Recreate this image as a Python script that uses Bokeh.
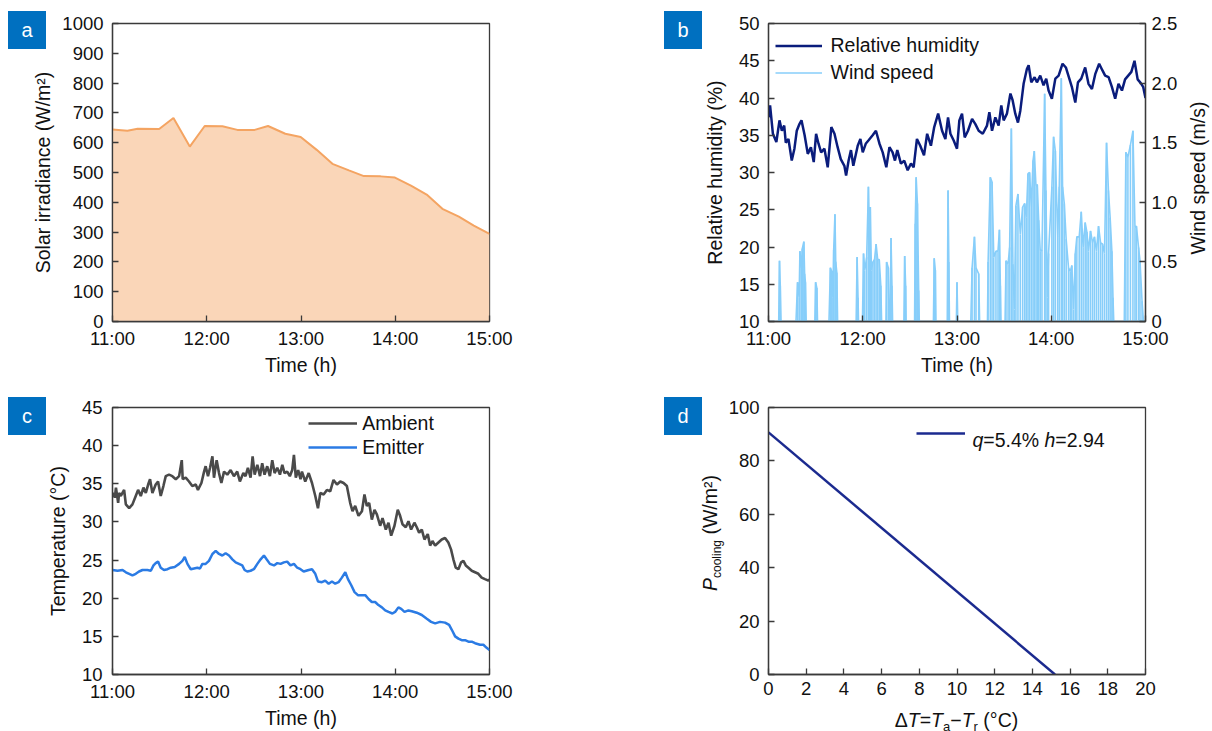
import math
from bokeh.plotting import figure
from bokeh.layouts import column, row
from bokeh.models import (FixedTicker, LinearAxis, Range1d, Label, Legend, LegendItem, Div)
from bokeh.embed import file_html
from bokeh.resources import INLINE

# ---------------- data (time in minutes after 11:00) ----------------
TIME_TICKS = [0, 60, 120, 180, 240]
TIME_LABELS = ["11:00", "12:00", "13:00", "14:00", "15:00"]

IRR_T = [0, 9.5, 16, 29.7, 38.8, 49.2, 58.7, 70, 79.5, 90.5, 99, 110, 119.8, 130, 140,
         150.5, 160, 170.7, 179.8, 190, 200, 210, 220.5, 230, 240]
IRR_V = [644, 640, 647, 646, 683, 587, 656, 655, 643, 643, 656, 630, 619, 576, 529,
         507, 488, 487, 483, 456, 426, 378, 352, 322, 294]

RH_T = [0, 1, 2.8, 5, 7, 8.5, 10, 11, 12.7, 14.8, 16.5, 18, 19.7, 21, 23, 25, 27, 28.8, 30.3,
        31.8, 33.5, 35.6, 37.7, 40, 42, 44, 46, 48.3, 49.4, 51, 52.5, 54, 56.8, 58.5, 60, 62,
        63.6, 66.3, 68.4, 70.6, 72.7, 75, 77, 79, 80.5, 82, 84.3, 86.4, 88.6, 90.7, 92.4, 94.5,
        96.6, 99, 101, 103.4, 105.5, 108, 110.5, 112.6, 114.3, 115.8, 117.9, 120, 121.5, 123.2,
        124.9, 127, 129.6, 131.7, 133.8, 136.4, 139.1, 140.6, 142.3, 144.4, 146.5, 148.2, 149.7,
        151.8, 154, 155.4, 157.1, 158.8, 160.3, 162.4, 164.5, 165.6, 167.3, 169.4, 170.9, 173,
        175.1, 176.8, 178.3, 180.4, 182.6, 184.7, 187.2, 189.3, 191.5, 193.1, 195.3, 197, 199.1,
        201.6, 203.7, 205.9, 208, 210.5, 212.6, 214.3, 216.5, 218.6, 220.7, 222.8, 225, 227, 229,
        231, 233, 235, 237, 238.5, 240]
RH_V = [37.4, 39.0, 35.2, 34.1, 37.0, 35.6, 36.3, 34.0, 34.5, 31.6, 33.2, 35.6, 36.5, 37.0, 35.0,
        32.5, 33.4, 31.4, 35.2, 33.9, 32.7, 33.2, 30.7, 36.1, 35.2, 33.4, 31.8, 30.9, 29.6, 31.6,
        33.0, 30.9, 33.6, 34.5, 32.7, 33.9, 34.3, 35.0, 35.6, 33.9, 32.7, 30.7, 33.4, 32.7, 31.6,
        33.0, 31.2, 31.6, 30.3, 31.2, 30.7, 34.5, 33.6, 32.3, 35.2, 33.6, 36.1, 37.9, 35.6, 34.5,
        37.4, 35.2, 34.3, 33.2, 37.0, 37.9, 34.7, 35.6, 37.2, 36.5, 35.6, 35.2, 36.3, 38.1, 35.6,
        37.4, 36.3, 39.0, 37.0, 37.9, 40.6, 39.7, 37.9, 36.7, 38.3, 41.9, 43.9, 44.4, 42.1, 42.8,
        42.1, 43.0, 41.7, 42.6, 41.0, 39.9, 42.6, 43.0, 44.6, 44.1, 42.6, 41.5, 39.4, 42.1, 42.6,
        44.1, 41.9, 41.2, 43.2, 44.6, 43.7, 43.0, 42.8, 41.5, 39.9, 41.9, 41.0, 42.5, 43.0, 43.5,
        45.0, 42.5, 42.0, 41.5, 40.0]

WIND_T = [0, 6.5, 7, 7.5, 8,
          17.5, 18.5, 19.5, 20, 21, 21.5, 22.5, 23, 23.5, 24,
          29.5, 30, 30.8, 31.2,
          38.5, 39.4, 40.3, 41, 41.5, 42.3, 42.8, 43.5, 44,
          55.8, 56.4, 57, 57.3,
          59.8, 60.5, 61.3, 62.5, 63.6, 64.3, 64.8, 65.5, 66.5, 67.5, 68.5, 69.5, 70.5, 71.5, 72,
          74.8, 75.2, 76.3, 76.8, 77.5, 78, 78.6, 79,
          86.2, 86.7, 87.3, 87.6,
          93, 93.4, 94, 94.8, 95.6, 96,
          105, 105.5, 106.2, 106.6,
          113.8, 114.3, 114.8, 115.2,
          119.6, 120, 120.5,
          128.8, 129.6, 131.1, 132.1, 133.8, 134.4,
          139.4, 139.8, 141.2, 142.3, 143.4, 144.8, 146.1, 147, 147.6, 148,
          150.6, 151.2, 152.5, 153.5, 154.6, 155.6, 156.5, 157.5, 158.8, 160.3, 161.8, 163.1,
          164.1, 165.2, 166.2, 167.3, 168.4, 169.2, 170.3, 171.1, 172, 173, 174.1, 175.8, 176.6,
          177.5, 178.3, 180.4, 181.5, 182.6, 184.1, 185.1, 186.4, 187.2, 188.3, 189.5, 191, 192.1,
          193.1, 194.2, 195.3, 196.3, 197.8, 199.1, 200.3, 201.6, 202.7, 203.7, 205, 206.3, 207.5,
          208.8, 210.1, 211.4, 212.6, 213.9, 215.2, 216.4, 217.5, 218.6, 219.3, 219.8,
          226.5, 227.5, 228.8, 230.4, 232, 233.3, 234.2, 235.6, 236.5, 237.8, 238.7, 240]
WIND_V = [0, 0, 0.51, 0.3, 0,
          0, 0.33, 0.2, 0.59, 0.45, 0.61, 0.67, 0.4, 0.33, 0,
          0, 0.33, 0.28, 0,
          0, 0.45, 0.42, 0.2, 0.6, 0.9, 0.5, 0.41, 0,
          0, 0.54, 0.2, 0,
          0, 0.57, 0.43, 0.54, 1.13, 0.7, 0.96, 0.43, 0.5, 0.52, 0.65, 0.52, 0.52, 0.3, 0,
          0, 0.5, 0.45, 0, 0, 0.7, 0.3, 0,
          0, 0.55, 0.3, 0,
          0, 0.82, 1.21, 0.99, 0.26, 0,
          0, 0.53, 0.43, 0,
          0, 1.10, 0.5, 0,
          0, 0.33, 0,
          0, 0.45, 0.71, 0.45, 0.4, 0,
          0, 0.5, 1.21, 1.17, 0.54, 0.59, 0.59, 0.77, 0.3, 0,
          0, 0.51, 0.48, 0.62, 1.62, 0.48, 0.1, 0.97, 1.07, 0.73, 0.96, 0.99,
          0.87, 1.24, 1.25, 0.96, 1.35, 1.43, 1.13, 1.15, 0.85, 0.59, 0.6, 1.91, 1.1,
          0.2, 0.57, 1.13, 1.55, 1.43, 0.71, 1.13, 2.04, 1.13, 0.99, 0.69, 0.45, 0.42,
          0.47, 0.1, 0.57, 0.71, 0.71, 0.92, 0.62, 0.83, 0.75, 0.59, 0.76, 0.66, 0.71,
          0.59, 0.8, 0.66, 0.65, 0.57, 1.5, 1.1, 0.87, 0.59, 0.2, 0,
          0, 1.42, 1.38, 1.48, 1.6, 0.79, 0.8, 0.62, 0.51, 0.17, 0, 0]

AMB_T = [0, 1.5, 2.2, 3.6, 4.2, 5.3, 7.4, 8.5, 10.6, 12.7, 14.8, 16.3, 18, 19.7, 21.2, 22.7, 23.9,
         25.4, 27.5, 29, 30.7, 32.4, 33.9, 36, 38.1, 40.3, 42.4, 44.1, 44.7, 46.6, 48.7, 50.8, 53,
         54.4, 56.6, 58.3, 59.3, 60.8, 62.1, 63.6, 64.6, 66.3, 67.8, 69.3, 71, 73.1, 75.2, 77.3,
         79.4, 81.1, 83.3, 84.7, 86.2, 87.9, 89.2, 90.5, 92.2, 93.9, 95.3, 96.8, 98.5, 100.2,
         101.7, 103.2, 104.9, 106.6, 108.1, 109.5, 111.2, 112.9, 114.4, 115.5, 116.7, 118.2,
         119.7, 120.6, 122.7, 124.9, 127, 129.1, 130.8, 132.3, 134.4, 136.5, 138.6, 140.7, 142.9,
         145, 147.1, 149.2, 151.3, 152.8, 154.5, 156.6, 158.8, 160.4, 161.9, 163.4, 165.1, 166.8,
         168.3, 170.4, 171.9, 174, 175.7, 177.4, 179.5, 181.6, 183.1, 184.6, 186.7, 188.4, 190.1,
         192.2, 193.7, 195.2, 196.9, 198.6, 200.7, 202.2, 203.7, 205.4, 207.5, 209.6, 211.7,
         213.8, 215.5, 217, 218.5, 220.2, 221.9, 223.4, 224.9, 226.6, 228.7, 230.8, 232.9, 235,
         237.1, 239.3, 240]
AMB_V = [33.8, 33.2, 34.5, 32.5, 33.8, 33.4, 34.2, 32.3, 31.8, 32.3, 33.4, 34.2, 33.4, 34.5, 33.8,
         34.9, 35.6, 33.8, 34.9, 35.3, 33.4, 34.7, 36.0, 36.2, 36.0, 35.6, 36.0, 38.1, 35.6, 35.8,
         35.3, 34.7, 34.9, 34.2, 35.1, 36.6, 37.3, 36.0, 37.1, 38.6, 35.8, 38.1, 36.4, 35.1, 36.6,
         36.2, 36.8, 36.0, 36.6, 35.3, 36.4, 36.0, 37.1, 35.8, 38.6, 36.2, 37.5, 36.0, 37.7, 36.2,
         37.3, 36.0, 38.1, 36.4, 37.1, 36.2, 37.5, 36.4, 36.6, 36.0, 36.8, 38.8, 35.8, 36.8, 35.6,
         36.6, 35.3, 36.4, 35.1, 33.4, 31.8, 33.8, 33.6, 34.2, 34.0, 35.5, 34.9, 35.3, 35.1, 34.7,
         32.5, 31.4, 32.1, 30.8, 31.4, 33.6, 32.1, 32.5, 30.3, 31.6, 31.0, 29.5, 30.5, 29.0, 29.9,
         28.2, 29.5, 31.6, 30.8, 29.7, 29.3, 30.1, 29.0, 29.9, 29.3, 28.6, 29.0, 27.7, 28.4, 26.9,
         27.5, 26.9, 27.3, 27.7, 27.9, 27.3, 26.4, 25.1, 24.0, 23.8, 24.7, 24.9, 24.3, 24.0, 23.6,
         23.4, 23.2, 22.7, 22.5, 22.3, 22.5]

EMI_T = [0, 3.2, 6.4, 8.5, 10.6, 12.7, 14.8, 16.9, 19.1, 22.2, 24.4, 26.1, 27.5, 29, 30.7, 32.8,
         35, 37.1, 39.6, 42.4, 44.5, 46, 47.7, 49.8, 51.9, 54, 55.7, 57.2, 59.3, 61.4, 63.6, 65.7,
         67.8, 69.9, 72, 74.2, 76.3, 78.4, 80.5, 82.6, 84.1, 85.8, 87.9, 90, 92.2, 94.3, 96.4,
         98.1, 100.2, 102.8, 104.9, 107, 109.1, 111.2, 113.3, 115.5, 117.6, 119.7, 121.7, 124.9,
         127, 129.1, 130.8, 133.3, 135.4, 137.6, 139.7, 141.8, 143.9, 146, 148.2, 149.9, 152,
         154.1, 156.2, 158.8, 160.9, 163, 165.1, 167.2, 169.3, 171.5, 173.6, 175.7, 178.2, 179.9,
         182, 183.8, 185.9, 188.4, 190.5, 193.7, 196.9, 200.1, 202.8, 205.4, 208.5, 211.7, 214.3,
         216.4, 218.1, 220.2, 222.3, 224.4, 226.6, 228.7, 230.8, 234, 236.1, 238.2, 240]
EMI_V = [23.7, 23.6, 23.7, 23.4, 23.2, 23.0, 23.2, 23.5, 23.7, 23.7, 23.6, 24.3, 24.6, 24.8, 24.0,
         23.7, 23.8, 24.0, 24.1, 24.5, 24.9, 25.4, 24.5, 23.8, 23.9, 24.0, 23.9, 24.5, 24.5, 24.9,
         25.8, 26.2, 25.8, 25.6, 25.9, 25.6, 25.1, 24.7, 24.5, 24.3, 23.7, 23.5, 23.6, 23.8, 24.5,
         25.1, 25.6, 25.1, 24.5, 24.3, 24.6, 24.5, 24.7, 24.8, 24.3, 24.5, 24.0, 23.8, 23.5, 23.7,
         23.8, 23.2, 22.2, 22.1, 22.3, 21.9, 22.2, 21.9, 22.1, 22.7, 23.4, 22.5, 21.7, 20.8, 20.4,
         20.4, 20.4, 19.9, 19.5, 19.5, 19.1, 18.8, 18.4, 18.2, 18.0, 18.2, 18.8, 18.6, 18.2, 18.4,
         18.3, 18.1, 17.8, 17.3, 16.9, 16.7, 16.9, 16.8, 16.5, 15.7, 15.0, 14.7, 14.5, 14.5, 14.3,
         14.3, 14.1, 13.9, 13.9, 13.5, 13.2]

DT = [0, 15.2]
PCOOL = [90.7, 0]

IRR_TICKS = [0, 100, 200, 300, 400, 500, 600, 700, 800, 900, 1000]
RH_TICKS = [10, 15, 20, 25, 30, 35, 40, 45, 50]
WIND_TICKS = [0, 0.5, 1.0, 1.5, 2.0, 2.5]
TEMP_TICKS = [10, 15, 20, 25, 30, 35, 40, 45]
DT_TICKS = [0, 2, 4, 6, 8, 10, 12, 14, 16, 18, 20]
P_TICKS = [0, 20, 40, 60, 80, 100]

# ---------------- styling ----------------
FONT = "Liberation Sans"
AX = "#3a3a3a"
TXT = "#111111"
TICK_FS = "18.5px"
LAB_FS = 19.5
TAG_BG = "#0070C0"

W_TAB = {'=': 0.584, ' ': 0.278, 'q': 0.556, 'h': 0.556, '%': 0.889, '.': 0.278}


def tw(s, size):
    return sum(W_TAB.get(ch, 0.556) for ch in s) * size


def make_fig(w, h, left, right, top, bottom, xr, yr):
    p = figure(width=w, height=h, x_range=Range1d(*xr), y_range=Range1d(*yr),
               output_backend="svg", toolbar_location=None,
               min_border_left=left, min_border_right=right,
               min_border_top=top, min_border_bottom=bottom)
    p.grid.visible = False
    p.outline_line_color = AX
    p.outline_line_width = 1.3
    p.background_fill_color = "white"
    p.border_fill_color = "white"
    return p


def style_axis(ax, ticks, lab_standoff, axlab_standoff):
    ax.ticker = FixedTicker(ticks=ticks)
    ax.axis_line_color = AX
    ax.axis_line_width = 1.3
    ax.major_tick_line_color = AX
    ax.major_tick_line_width = 1.3
    ax.major_tick_in = 6
    ax.major_tick_out = 0
    ax.minor_tick_in = 0
    ax.minor_tick_out = 0
    ax.major_label_text_font = FONT
    ax.major_label_text_font_size = TICK_FS
    ax.major_label_text_color = TXT
    ax.major_label_standoff = lab_standoff
    ax.axis_label_text_font = FONT
    ax.axis_label_text_font_size = f"{LAB_FS}px"
    ax.axis_label_text_font_style = "normal"
    ax.axis_label_text_color = TXT
    ax.axis_label_standoff = axlab_standoff


def time_axis(ax):
    style_axis(ax, TIME_TICKS, 6, 2)
    ax.major_label_overrides = {t: l for t, l in zip(TIME_TICKS, TIME_LABELS)}
    ax.axis_label = "Time (h)"


def text_run(p, x0, y0, pieces):
    pos = 0.0
    for txt, italic in pieces:
        if txt == "":
            pos += tw(" ", LAB_FS)
            continue
        p.add_layout(Label(x=x0 + pos, y=y0, x_units="screen", y_units="screen", text=txt,
                           text_font=FONT, text_font_size=f"{LAB_FS}px",
                           text_font_style="italic" if italic else "normal",
                           text_color=TXT, text_align="left", text_baseline="alphabetic"))
        pos += tw(txt, LAB_FS)


def legend(p, items, loc, gw, gh, standoff):
    lg = Legend(items=items, location=loc, margin=0, padding=0, spacing=0,
                glyph_width=gw, glyph_height=gh, label_standoff=standoff,
                label_text_font=FONT, label_text_font_size=f"{LAB_FS}px",
                label_text_color=TXT, border_line_color=None, background_fill_alpha=0)
    p.add_layout(lg)


# ---------------- panel a ----------------
pa = make_fig(600, 380, 112, 111, 23, 59, (0, 240), (0, 1000))
pa.varea(x=IRR_T, y1=0, y2=IRR_V, fill_color="#FAD6B8")
pa.line(IRR_T, IRR_V, line_color="#F4A462", line_width=2)
time_axis(pa.xaxis[0])
style_axis(pa.yaxis[0], IRR_TICKS, 9, 5)
pa.yaxis[0].axis_label = "Solar irradiance (W/m²)"

# ---------------- panel b ----------------
pb = make_fig(612, 380, 168, 67, 23, 59, (0, 240), (10, 50))
pb.extra_y_ranges = {"wind": Range1d(0, 2.5)}
pb.vbar(x=WIND_T, top=WIND_V, bottom=0, width=1.0, fill_color="#87CEFA", line_color=None,
        y_range_name="wind")
r_wind = pb.line(WIND_T, WIND_V, line_color="#87CEFA", line_width=1.6, y_range_name="wind")
r_rh = pb.line(RH_T, RH_V, line_color="#0A1C7C", line_width=2.5)
time_axis(pb.xaxis[0])
style_axis(pb.yaxis[0], RH_TICKS, 9, 10)
pb.yaxis[0].axis_label = "Relative humidity (%)"
rax = LinearAxis(y_range_name="wind")
style_axis(rax, WIND_TICKS, 6, 9)
rax.major_label_overrides = {0: "0", 0.5: "0.5", 1.0: "1.0", 1.5: "1.5", 2.0: "2.0", 2.5: "2.5"}
pb.add_layout(rax, "right")
legend(pb, [LegendItem(label="Relative humidity", renderers=[r_rh]),
            LegendItem(label="Wind speed", renderers=[r_wind])], (6.5, 235), 47, 27, 9)

# ---------------- panel c ----------------
pc = make_fig(600, 351, 112, 111, 27, 54, (0, 240), (10, 45))
r_amb = pc.line(AMB_T, AMB_V, line_color="#4A4A4A", line_width=2.6)
r_emi = pc.line(EMI_T, EMI_V, line_color="#2B7BE4", line_width=2.5)
time_axis(pc.xaxis[0])
style_axis(pc.yaxis[0], TEMP_TICKS, 10, 10)
pc.yaxis[0].axis_label = "Temperature (°C)"
legend(pc, [LegendItem(label="Ambient", renderers=[r_amb]),
            LegendItem(label="Emitter", renderers=[r_emi])], (196.3, 215), 49, 24, 5)

# ---------------- panel d ----------------
pd_ = make_fig(612, 351, 168, 67, 27, 54, (0, 20), (0, 100))
r_p = pd_.line(DT, PCOOL, line_color="#1B2A8F", line_width=2.5)
style_axis(pd_.xaxis[0], DT_TICKS, 7, 3)
style_axis(pd_.yaxis[0], P_TICKS, 9, 6)
legend(pd_, [LegendItem(label=" ", renderers=[r_p])], (148.3, 229.3), 49, 24, 5)
text_run(pd_, 203.9, 234.6, [("q", True), ("=5.4%", False), ("", False),
                             ("h", True), ("=2.94", False)])

# ---------------- HTML overlay: panel tags and mixed-style / reversed axis titles ----------------
OY = 743  # page y of the overlay container (it sits just below the plots)


def tag(letter, x, y):
    return (f'<div style="position:absolute;left:{x}px;top:{y - OY}px;width:38px;height:38px;'
            f'background:{TAG_BG};color:white;font-family:\'{FONT}\';font-size:20px;'
            f'line-height:38px;text-align:center;">{letter}</div>')


def centered(html, cx, cy, rot=0):
    tr = "translate(-50%,-50%)" + (f" rotate({rot}deg)" if rot else "")
    return (f'<div style="position:absolute;left:{cx}px;top:{cy - OY}px;transform:{tr};'
            f'white-space:nowrap;font-family:\'{FONT}\';font-size:{LAB_FS}px;line-height:1.15;'
            f'color:{TXT};">{html}</div>')


SUB = 'style="font-size:13px;position:relative;top:4px;"'
parts = [tag("a", 8, 11), tag("b", 664, 11), tag("c", 8, 397), tag("d", 664, 397),
         centered(f'Δ<i>T</i>=<i>T</i><span {SUB}>a</span>−<i>T</i><span {SUB}>r</span> (°C)',
                  956.5, 719.5),
         centered('<i>P</i><span style="font-size:12px;position:relative;top:4px;">cooling</span>'
                  ' (W/m²)', 709.5, 532.5, -90),
         centered("Wind speed (m/s)", 1198, 178, -90)]

overlay = Div(text='<div style="position:relative;width:0;height:0;overflow:visible;">'
                   + "".join(parts) + "</div>",
              width=1212, height=0, margin=0,
              styles={"overflow": "visible", "z-index": "10"})

layout = column(row(pa, pb), row(pc, pd_), overlay)
open("out.html", "w").write(file_html(layout, INLINE))
